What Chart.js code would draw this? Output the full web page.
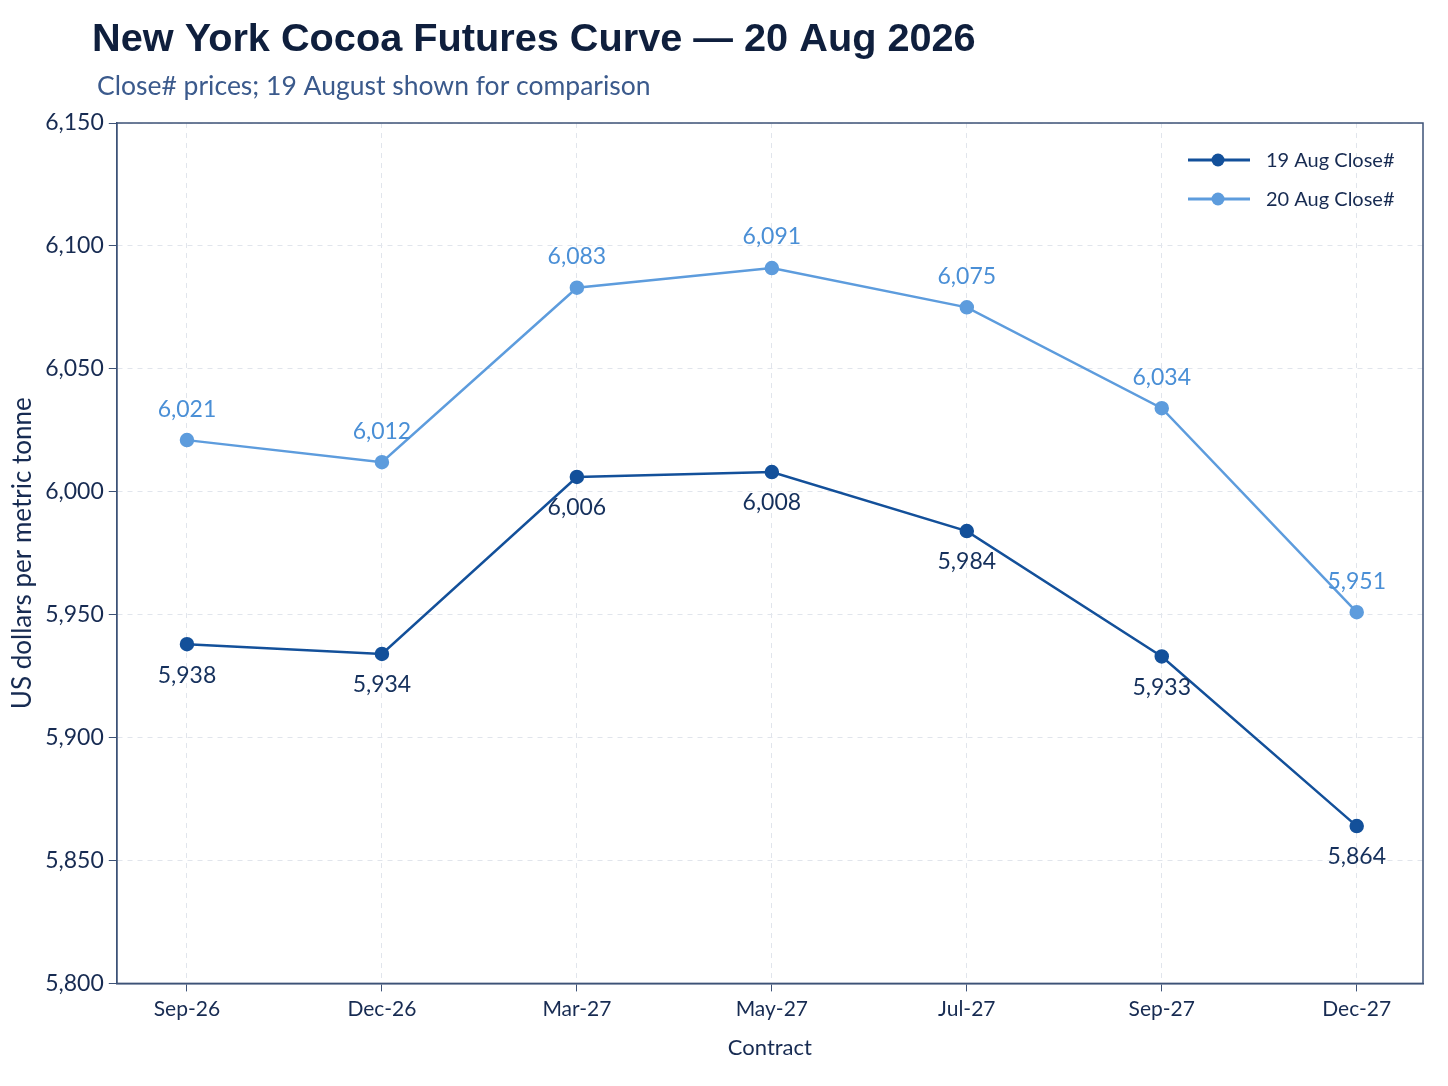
<!DOCTYPE html>
<html>
<head>
<meta charset="utf-8">
<script src="https://cdn.jsdelivr.net/npm/chart.js@4.4.1/dist/chart.umd.min.js"></script>
<style>
  html, body { margin: 0; padding: 0; background: #ffffff; }
  #wrap { width: 1448px; height: 1086px; }
</style>
</head>
<body>
<div id="wrap"><canvas id="curveChart"></canvas></div>
<script>
// contracts on the curve
const contracts = ['Sep-26', 'Dec-26', 'Mar-27', 'May-27', 'Jul-27', 'Sep-27', 'Dec-27'];
// settlement prices, US$ per tonne
const close19Aug = [5938, 5934, 6006, 6008, 5984, 5933, 5864];
const close20Aug = [6021, 6012, 6083, 6091, 6075, 6034, 5951];
const yTicks = [5800, 5850, 5900, 5950, 6000, 6050, 6100, 6150];

const DARK = '#13509a';
const LIGHT = '#5d9cdd';
const TEXT = '#172b52';
const AXIS = '#3d5277';
const FONT = 'Lato, "DejaVu Sans", sans-serif';

const toPoints = arr => arr.map((v, i) => ({ x: i, y: v }));

// title, subtitle, box, legend and point labels
const decorations = {
    id: 'decorations',
    afterDatasetsDraw(chart) {
        const ctx = chart.ctx;
        const area = chart.chartArea;
        ctx.save();

        // frame around plot
        ctx.strokeStyle = AXIS;
        ctx.lineWidth = 1.5;
        ctx.strokeRect(area.left, area.top, area.right - area.left, area.bottom - area.top);

        // value labels
        ctx.font = '23px ' + FONT;
        ctx.textAlign = 'center';
        ctx.textBaseline = 'middle';
        chart.data.datasets.forEach((ds, di) => {
            const meta = chart.getDatasetMeta(di);
            ctx.fillStyle = ds.labelColor;
            meta.data.forEach((pt, i) => {
                const v = ds.data[i].y;
                ctx.fillText(v.toLocaleString('en-US'), pt.x, pt.y + ds.labelShift);
            });
        });

        // legend
        const legendItems = [
            { text: '19 Aug Close#', color: DARK, y: 160 },
            { text: '20 Aug Close#', color: LIGHT, y: 199 }
        ];
        legendItems.forEach(item => {
            ctx.strokeStyle = item.color;
            ctx.lineWidth = 3;
            ctx.beginPath();
            ctx.moveTo(1188, item.y);
            ctx.lineTo(1250, item.y);
            ctx.stroke();
            ctx.fillStyle = item.color;
            ctx.beginPath();
            ctx.arc(1218, item.y, 6.5, 0, Math.PI * 2);
            ctx.fill();
            ctx.fillStyle = TEXT;
            ctx.textAlign = 'left';
            ctx.font = '20px ' + FONT;
            ctx.fillText(item.text, 1266, item.y + 1);
        });

        // headings
        ctx.textAlign = 'left';
        ctx.fillStyle = '#0f1f3d';
        ctx.font = 'bold 39.7px "Liberation Sans", Arial, sans-serif';
        ctx.fillText('New York Cocoa Futures Curve \u2014 20 Aug 2026', 92, 40);
        ctx.fillStyle = '#3b5a8c';
        ctx.font = '26.5px ' + FONT;
        ctx.fillText('Close# prices; 19 August shown for comparison', 97, 86);

        ctx.restore();
    }
};

const chart = new Chart(document.getElementById('curveChart'), {
    type: 'line',
    data: {
        datasets: [
            {
                label: '19 Aug Close#',
                data: toPoints(close19Aug),
                borderColor: DARK,
                backgroundColor: DARK,
                borderWidth: 2.5,
                pointRadius: 6,
                pointHoverRadius: 6,
                tension: 0,
                labelColor: '#15305c',
                labelShift: 31
            },
            {
                label: '20 Aug Close#',
                data: toPoints(close20Aug),
                borderColor: LIGHT,
                backgroundColor: LIGHT,
                borderWidth: 2.5,
                pointRadius: 6,
                pointHoverRadius: 6,
                tension: 0,
                labelColor: '#4a8fd6',
                labelShift: -31
            }
        ]
    },
    options: {
        responsive: true,
        maintainAspectRatio: false,
        animation: false,
        layout: { padding: { top: 123, right: 25, bottom: 21, left: 3 } },
        plugins: {
            legend: { display: false },
            title: { display: false },
            tooltip: { enabled: false }
        },
        scales: {
            x: {
                type: 'linear',
                min: -0.36,
                max: 6.34,
                afterBuildTicks: scale => {
                    scale.ticks = contracts.map((c, i) => ({ value: i }));
                },
                ticks: {
                    color: TEXT,
                    font: { family: FONT, size: 21 },
                    padding: 5,
                    callback: value => contracts[value]
                },
                grid: {
                    color: '#e1e5ec',
                    tickColor: AXIS,
                    tickLength: 8,
                    lineWidth: 1
                },
                border: { color: AXIS, width: 1.5, dash: [5, 5] },
                title: {
                    display: true,
                    text: 'Contract',
                    color: TEXT,
                    font: { family: FONT, size: 22 },
                    padding: { top: 8 }
                }
            },
            y: {
                min: 5800,
                max: 6150,
                afterBuildTicks: scale => {
                    scale.ticks = yTicks.map(v => ({ value: v }));
                },
                ticks: {
                    color: TEXT,
                    font: { family: FONT, size: 23 },
                    padding: 5,
                    callback: value => value.toLocaleString('en-US')
                },
                grid: {
                    color: '#e1e5ec',
                    tickColor: AXIS,
                    tickLength: 8,
                    lineWidth: 1
                },
                border: { color: AXIS, width: 1.5, dash: [5, 5] },
                title: {
                    display: true,
                    text: 'US dollars per metric tonne',
                    color: TEXT,
                    font: { family: FONT, size: 26 },
                    padding: { top: 4, bottom: 2 }
                }
            }
        }
    },
    plugins: [decorations]
});
</script>
</body>
</html>
